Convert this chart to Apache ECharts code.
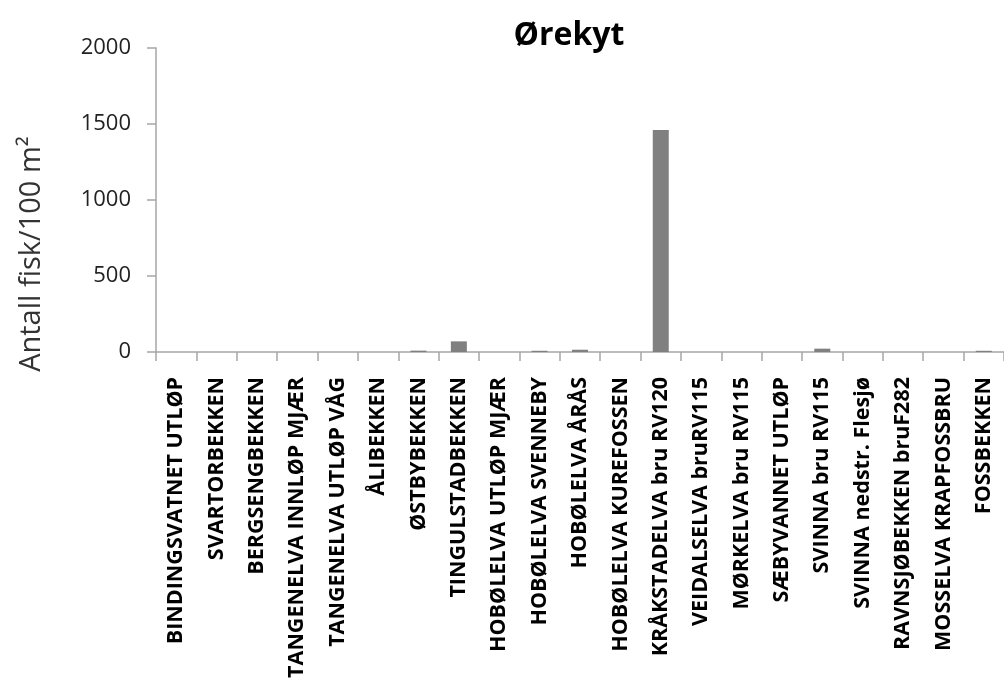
<!DOCTYPE html>
<html>
<head>
<meta charset="utf-8">
<script src="https://cdn.jsdelivr.net/npm/echarts@6/dist/echarts.min.js"></script>
<style>
  html, body { margin: 0; padding: 0; background: #fff; }
  #chart { width: 1004px; height: 691px; }
</style>
</head>
<body>
<div id="chart"></div>
<script>
// Sampling stations
const stations = [
  'BINDINGSVATNET UTLØP',
  'SVARTORBEKKEN',
  'BERGSENGBEKKEN',
  'TANGENELVA INNLØP MJÆR',
  'TANGENELVA UTLØP VÅG',
  'ÅLIBEKKEN',
  'ØSTBYBEKKEN',
  'TINGULSTADBEKKEN',
  'HOBØLELVA UTLØP MJÆR',
  'HOBØLELVA SVENNEBY',
  'HOBØLELVA ÅRÅS',
  'HOBØLELVA KUREFOSSEN',
  'KRÅKSTADELVA bru RV120',
  'VEIDALSELVA bruRV115',
  'MØRKELVA bru RV115',
  'SÆBYVANNET UTLØP',
  'SVINNA bru RV115',
  'SVINNA nedstr. Flesjø',
  'RAVNSJØBEKKEN bruF282',
  'MOSSELVA KRAPFOSSBRU',
  'FOSSBEKKEN'
];

// Minnow density (fish per 100 m²)
const density = [0, 0, 0, 0, 0, 0, 9, 70, 0, 8, 15, 0, 1460, 0, 0, 0, 22, 0, 0, 0, 8];

const yTicks = { min: 0, max: 2000, interval: 500 };

const chart = echarts.init(document.getElementById('chart'), null, { renderer: 'canvas' });

const axisGray = '#a6a6a6';
const font = '"Open Sans", "DejaVu Sans", sans-serif';

chart.setOption({
  animation: false,
  title: {
    text: 'Ørekyt',
    left: 564,
    top: 15,
    textAlign: 'center',
    textStyle: { fontFamily: font, fontWeight: 'bold', fontSize: 32, color: '#000' }
  },
  grid: { left: 156, top: 48, height: 304, width: 855, containLabel: false },
  xAxis: {
    type: 'category',
    data: stations,
    axisLine: { lineStyle: { color: axisGray, width: 1.5 } },
    axisTick: { show: true, alignWithLabel: false, length: 9, lineStyle: { color: axisGray, width: 1.5 } },
    axisLabel: {
      interval: 0,
      rotate: 90,
      margin: 25,
      fontFamily: font,
      fontWeight: 'bold',
      fontSize: 21.5,
      color: '#000'
    }
  },
  yAxis: {
    type: 'value',
    min: yTicks.min,
    max: yTicks.max,
    interval: yTicks.interval,
    splitLine: { show: false },
    axisLine: { show: true, lineStyle: { color: axisGray, width: 1.5 } },
    axisTick: { show: true, length: 9, lineStyle: { color: axisGray, width: 1.5 } },
    axisLabel: {
      margin: 25,
      fontFamily: font,
      fontSize: 22,
      color: '#222',
      formatter: (v) => String(v)
    }
  },
  graphic: [{
    type: 'text',
    x: 32,
    y: 254,
    rotation: Math.PI / 2,
    style: {
      text: 'Antall fisk/100 m²',
      fontFamily: font,
      fontSize: 29,
      fill: '#333',
      textAlign: 'center',
      textVerticalAlign: 'middle'
    }
  }],
  series: [{
    type: 'bar',
    data: density,
    barWidth: 16,
    itemStyle: { color: '#808080' }
  }]
});
</script>
</body>
</html>
